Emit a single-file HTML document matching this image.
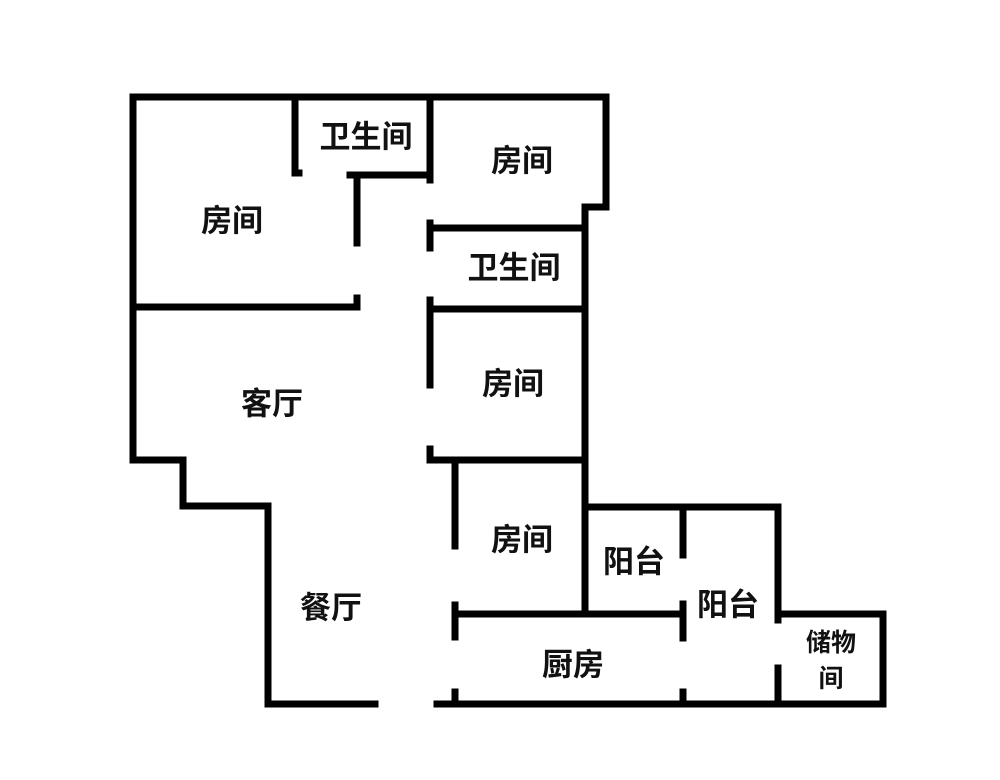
<!DOCTYPE html>
<html><head><meta charset="utf-8"><style>
html,body{margin:0;padding:0;background:#fff;}
svg{display:block;}
text{font-family:"Liberation Sans","Noto Sans CJK SC",sans-serif;font-weight:bold;fill:#111;text-anchor:middle;dominant-baseline:central;}
</style></head><body>
<svg width="1000" height="780" viewBox="0 0 1000 780" xmlns="http://www.w3.org/2000/svg">
<g stroke="#000" stroke-width="7" stroke-linecap="square" fill="none">
<polyline points="133,97 606,97 606,207 585,207 585,612"/>
<polyline points="133,97 133,460 183,460 183,506 268,506 268,704 375,704"/>
<line x1="437" y1="704" x2="883" y2="704"/>
<polyline points="585,507 778,507 778,620"/>
<polyline points="778,668 778,704"/>
<polyline points="778,614 883,614 883,704"/>
<polyline points="295,97 295,173 299,173"/>
<polyline points="350,175 430,175"/>
<line x1="430" y1="97" x2="430" y2="180"/>
<line x1="357" y1="175" x2="357" y2="243"/>
<line x1="133" y1="307" x2="357" y2="307"/>
<line x1="357" y1="298" x2="357" y2="307"/>
<line x1="430" y1="228" x2="585" y2="228"/>
<line x1="430" y1="223" x2="430" y2="248"/>
<line x1="430" y1="309" x2="585" y2="309"/>
<line x1="430" y1="300" x2="430" y2="385"/>
<line x1="430" y1="460" x2="585" y2="460"/>
<line x1="430" y1="449" x2="430" y2="460"/>
<line x1="455" y1="462" x2="455" y2="546"/>
<line x1="455" y1="614" x2="683" y2="614"/>
<line x1="455" y1="605" x2="455" y2="637"/>
<line x1="455" y1="692" x2="455" y2="704"/>
<line x1="683" y1="507" x2="683" y2="555"/>
<line x1="683" y1="604" x2="683" y2="638"/>
<line x1="683" y1="692" x2="683" y2="704"/>
</g>
<g font-size="31">
<text x="232" y="221">房间</text>
<text x="366" y="137">卫生间</text>
<text x="522" y="161">房间</text>
<text x="514" y="268">卫生间</text>
<text x="513" y="384">房间</text>
<text x="272" y="404">客厅</text>
<text x="522" y="540">房间</text>
<text x="634" y="562">阳台</text>
<text x="728" y="605">阳台</text>
<text x="331" y="608">餐厅</text>
<text x="573" y="665">厨房</text>
</g>
<g font-size="25">
<text x="831" y="643">储物</text>
<text x="831" y="679">间</text>
</g>
</svg>
</body></html>
